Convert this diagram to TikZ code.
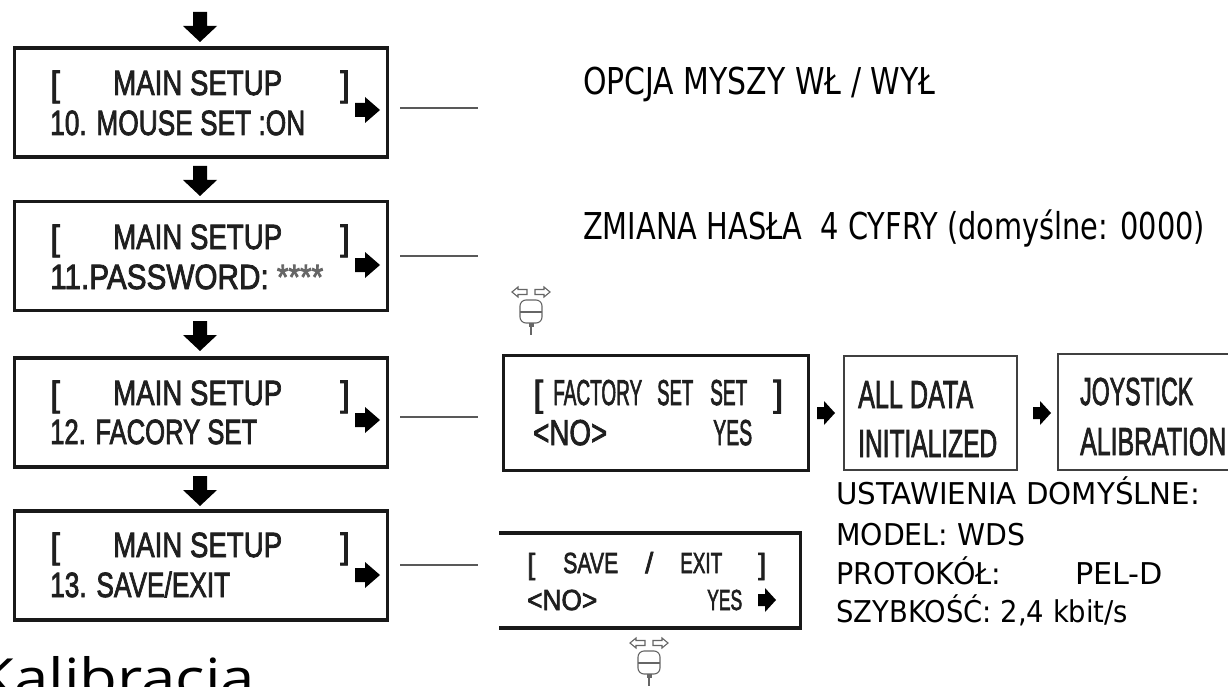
\documentclass[tikz,border=0pt]{standalone}
\usepackage{fontspec}
\usepackage{graphicx}
\setmainfont{Liberation Sans}
\newfontfamily\lcdf[FakeBold=2.5]{Liberation Sans}
\newfontfamily\tah{DejaVu Sans}
\newfontfamily\kal{Open Sans}
\newcommand\fw[2]{\resizebox{#1pt}{\height}{#2}}
\begin{document}
\begin{tikzpicture}[x=1pt,y=-1pt,
  lcdA/.style={anchor=base west, inner sep=0pt, text=black!88, font=\lcdf\fontsize{35}{35}\selectfont},
  lcdF/.style={anchor=base west, inner sep=0pt, text=black!88, font=\lcdf\fontsize{36}{36}\selectfont},
  lcdJ/.style={anchor=base west, inner sep=0pt, text=black!88, font=\lcdf\fontsize{39}{39}\selectfont},
  lcdS/.style={anchor=base west, inner sep=0pt, text=black!88, font=\lcdf\fontsize{29}{29}\selectfont},
  note/.style={anchor=base west, inner sep=0pt, text=black, font=\tah\fontsize{37}{37}\selectfont},
  noteS/.style={anchor=base west, inner sep=0pt, text=black, font=\tah\fontsize{30}{30}\selectfont},
  mainbox/.style={draw=black!90, line width=3.8pt, minimum width=373pt, minimum height=109pt, inner sep=0pt},
  thinbox/.style={draw=black!75, line width=2.5pt, inner sep=0pt},
  conn/.style={draw=black!65, line width=2pt},
  darrow/.pic={\fill[black] (-7,0) -- (7,0) -- (7,14) -- (17,14) -- (0,30) -- (-17,14) -- (-7,14) -- cycle;},
  rarrow/.pic={\fill[black] (0,-7) -- (10,-7) -- (10,-13) -- (25,0) -- (10,13) -- (10,7) -- (0,7) -- cycle;},
  rarrowS/.pic={\fill[black] (0,-6) -- (7,-6) -- (7,-12) -- (18,0) -- (7,12) -- (7,6) -- (0,6) -- cycle;},
  joy/.pic={
    \begin{scope}[draw=black!60, line width=1.1pt]
      \draw (-19,0) -- (-13,-5) -- (-13,-2.5) -- (-4,-2.5) -- (-4,2.5) -- (-13,2.5) -- (-13,5) -- cycle;
      \draw (19,0) -- (13,-5) -- (13,-2.5) -- (4,-2.5) -- (4,2.5) -- (13,2.5) -- (13,5) -- cycle;
      \draw[rounded corners=6pt] (-11,8) rectangle (11,31);
      \draw (-11,20) -- (11,20);
      \fill[black!60] (-2.5,31) rectangle (2.5,35);
      \draw (0,35) -- (0,43);
    \end{scope}}
]
\useasboundingbox (0,0) rectangle (1228,687);
\fill[white] (0,0) rectangle (1228,687);

% ---------- main setup boxes ----------
\node[mainbox] (b1) at (201,102.5) {};
\node[mainbox] (b2) at (201,256) {};
\node[mainbox] (b3) at (201,412.5) {};
\node[mainbox] (b4) at (201,565.5) {};

% down arrows
\pic at (200,12) {darrow};
\pic at (200,166) {darrow};
\pic at (200,321) {darrow};
\pic at (200,476) {darrow};

% box 1
\node[lcdA] (t1a) at (50,96) {[};
\node[lcdA] (t1b) at (113,95) {\fw{169}{MAIN SETUP}};
\node[lcdA] (t1c) at (340,96) {]};
\node[lcdA] (t1d) at (50,135) {\fw{255}{10. MOUSE SET :ON}};
\pic at (355,110) {rarrow};
% box 2
\node[lcdA] (t2a) at (50,250) {[};
\node[lcdA] (t2b) at (113,249) {\fw{169}{MAIN SETUP}};
\node[lcdA] (t2c) at (340,250) {]};
\node[lcdA] (t2d) at (50,289) {\fw{273}{11.PASSWORD: \textcolor{black!60}{****}}};
\pic at (355,265) {rarrow};
% box 3
\node[lcdA] (t3a) at (50,406) {[};
\node[lcdA] (t3b) at (113,405) {\fw{169}{MAIN SETUP}};
\node[lcdA] (t3c) at (340,406) {]};
\node[lcdA] (t3d) at (50,444) {\fw{207}{12. FACORY SET}};
\pic at (355,420) {rarrow};
% box 4
\node[lcdA] (t4a) at (50,558) {[};
\node[lcdA] (t4b) at (113,557) {\fw{169}{MAIN SETUP}};
\node[lcdA] (t4c) at (340,558) {]};
\node[lcdA] (t4d) at (50,597) {\fw{180}{13. SAVE/EXIT}};
\pic at (355,575) {rarrow};

% connector lines
\coordinate (l1a) at (400,108); \coordinate (l1b) at (478,108);
\coordinate (l2a) at (400,256); \coordinate (l2b) at (478,256);
\coordinate (l3a) at (400,417); \coordinate (l3b) at (478,417);
\coordinate (l4a) at (400,565); \coordinate (l4b) at (478,565);
\draw[conn] (l1a) -- (l1b);
\draw[conn] (l2a) -- (l2b);
\draw[conn] (l3a) -- (l3b);
\draw[conn] (l4a) -- (l4b);

% ---------- notes ----------
\node[note] (n1) at (583,95) {\fw{352}{OPCJA MYSZY WŁ / WYŁ}};
\node[note] (n2) at (583,240) {\fw{622}{ZMIANA HASŁA\ \ 4 CYFRY (domyślne: 0000)}};

% ---------- factory set chain ----------
\node[draw=black!90, line width=3pt, minimum width=305pt, minimum height=115pt, inner sep=0pt] (fs) at (655.5,412.5) {};
\node[lcdF] (f1) at (533,406) {[};
\node[lcdF] (f2) at (553,405) {\fw{89}{FACTORY}};
\node[lcdF] (f3) at (657,405) {\fw{36}{SET}};
\node[lcdF] (f4) at (710,405) {\fw{37}{SET}};
\node[lcdF] (f5) at (773,406) {]};
\node[lcdF] (f6) at (533,445) {\fw{74}{<NO>}};
\node[lcdF] (f7) at (713,445) {\fw{39}{YES}};
\pic at (817,413) {rarrowS};

\node[thinbox, minimum width=173pt, minimum height=114pt] (ad) at (930.5,413) {};
\node[lcdJ] (a1) at (858,408) {\fw{115}{ALL DATA}};
\node[lcdJ] (a2) at (858,457) {\fw{139}{INITIALIZED}};
\pic at (1033,413) {rarrowS};

\node[thinbox, minimum width=190pt, minimum height=116pt] (js) at (1153,412) {};
\node[lcdJ] (j1) at (1080,405) {\fw{113}{JOYSTICK}};
\node[lcdJ] (j2) at (1080,455) {\fw{146}{ALIBRATION}};

\pic at (531,292) {joy};

% ---------- default settings ----------
\node[noteS] (d1) at (836,504) {\fw{364}{USTAWIENIA DOMYŚLNE:}};
\node[noteS] (d2) at (836,545) {\fw{189}{MODEL: WDS}};
\node[noteS] (d3) at (836,584) {\fw{165}{PROTOKÓŁ:}};
\node[noteS] (d3b) at (1075,584) {\fw{88}{PEL-D}};
\node[noteS] (d4) at (836,622) {\fw{292}{SZYBKOŚĆ: 2,4 kbit/s}};

% ---------- save / exit ----------
\node[minimum width=301pt, minimum height=95pt, inner sep=0pt] (se) at (650,580.5) {};
\draw[black!90, line width=3.5pt] (se.north west) -- (se.north east) -- (se.south east) -- (se.south west);
\node[lcdS] (s1) at (527,574) {[};
\node[lcdS] (s2) at (563,573) {\fw{55}{SAVE}};
\node[lcdS] (s3) at (645,573) {/};
\node[lcdS] (s4) at (680,573) {\fw{42}{EXIT}};
\node[lcdS] (s5) at (758,574) {]};
\node[lcdS] (s6) at (527,610) {\fw{70}{<NO>}};
\node[lcdS] (s7) at (707,610) {\fw{35}{YES}};
\pic at (758,600) {rarrowS};
\pic at (649,643) {joy};

% ---------- Kalibracja ----------
\node[anchor=base west, inner sep=0pt, font=\kal\fontsize{54}{54}\selectfont] (kal) at (-24,697) {\fw{279}{Kalibracja}};
\end{tikzpicture}
\end{document}
